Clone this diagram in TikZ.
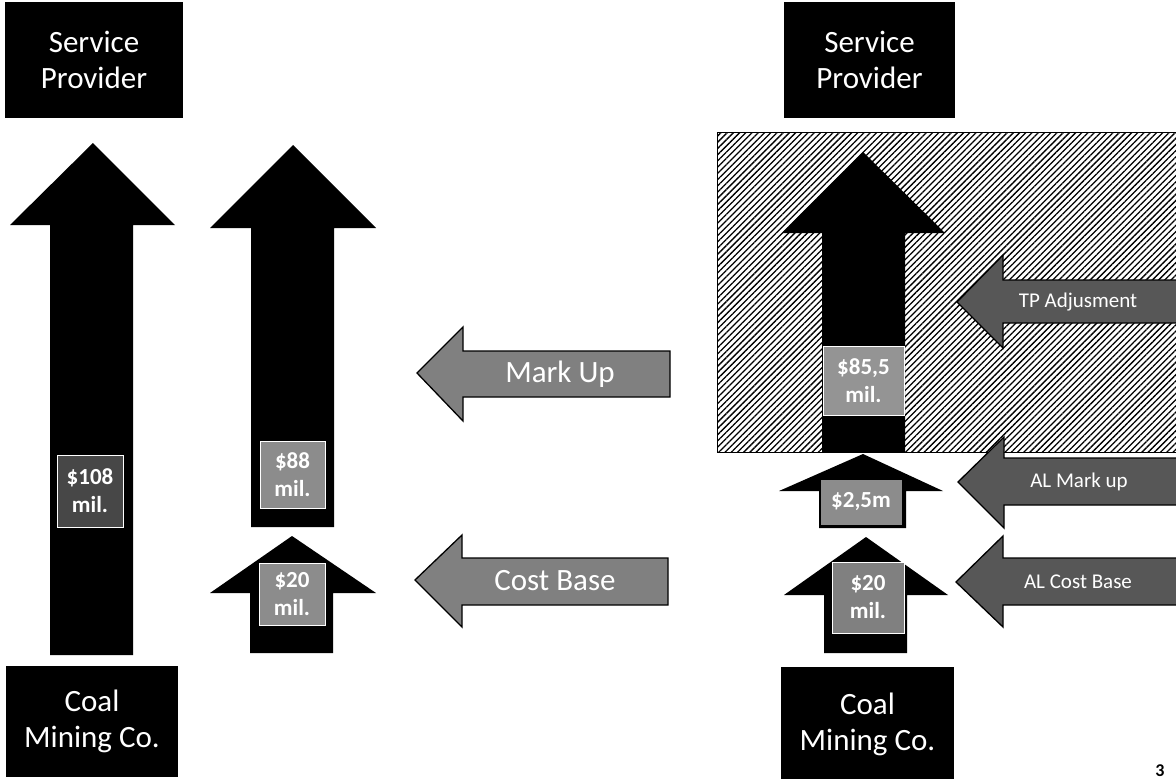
\documentclass[tikz,border=0pt]{standalone}
\usepackage{fontspec}
\setmainfont{Carlito}
\usetikzlibrary{patterns.meta}

% up arrow: style, tip x, tip y, head left, head right, head base y, shaft left, shaft right, bottom y
\newcommand\uparrowshape[9]{%
  \fill[#1] (#7,#9) -- (#7,#6) -- (#4,#6) -- (#2,#3) -- (#5,#6) -- (#8,#6) -- (#8,#9) -- cycle;}
% left arrow: style, tip x, tip y, head top, head bottom, head base x, shaft top, shaft bottom, right x
\newcommand\leftarrowshape[9]{%
  \filldraw[#1] (#9,#7) -- (#6,#7) -- (#6,#4) -- (#2,#3) -- (#6,#5) -- (#6,#8) -- (#9,#8) -- cycle;}

\begin{document}
\begin{tikzpicture}[x=1pt,y=-1pt,
  partybox/.style={fill=black, text=white, align=center, inner sep=0pt,
    font=\fontsize{31}{36}\selectfont},
  valuebox/.style={draw=white, line width=1pt, text=white, align=center, inner sep=0pt,
    font=\bfseries\fontsize{23}{28}\selectfont},
  flowlight/.style={draw=black, line width=1.3pt, fill=black!50},
  flowdark/.style={draw=black, line width=1.3pt, fill=black!66},
  flowtext/.style={text=white, font=\fontsize{31}{31}\selectfont},
  flowsmall/.style={text=white, font=\fontsize{21}{21}\selectfont},
  stream/.style={fill=black}
]
\useasboundingbox (0,0) rectangle (1176,779);
\fill[white] (0,0) rectangle (1176,779);

% ---------- left scenario ----------
\node[partybox, minimum width=178pt, minimum height=116pt] (spL) at (94,60) {Service\\Provider};
\node[partybox, minimum width=172pt, minimum height=111pt] (coalL) at (92,721.5) {Coal\\Mining Co.};

\uparrowshape{stream}{93}{143}{10}{175}{225}{50}{133}{655}
\uparrowshape{stream}{293}{145}{210}{376}{228}{251}{334}{527}
\uparrowshape{stream}{292}{536}{210}{376}{593}{250}{333}{653}

\node[valuebox, fill=black!72, minimum width=66pt, minimum height=72pt] (v108) at (90,491) {\$108\\mil.};
\node[valuebox, fill=black!45, minimum width=65pt, minimum height=67pt] (v88) at (292.5,474.5) {\$88\\mil.};
\node[valuebox, fill=black!45, minimum width=66pt, minimum height=62pt] (v20L) at (292,594) {\$20\\mil.};

\leftarrowshape{flowlight}{417}{373}{327}{421}{463}{351}{397}{670}
\leftarrowshape{flowlight}{415}{580}{535}{627}{462}{558}{605}{668}
\node[flowtext] (markup) at (560,374) {Mark Up};
\node[flowtext] (costbase) at (555,581) {Cost Base};

% ---------- right scenario ----------
\node[partybox, minimum width=171pt, minimum height=116pt] (spR) at (869.5,60) {Service\\Provider};
\node[partybox, minimum width=173pt, minimum height=114pt] (coalR) at (867.5,724) {Coal\\Mining Co.};

% transfer pricing adjustment area
\fill[white] (717,132) rectangle (1190,452);
\fill[pattern={Lines[angle=45, distance=4.4pt, line width=1.3pt]}, pattern color=black]
  (717,132) rectangle (1190,452);
\draw[line width=1pt] (717,132) rectangle (1190,452);

\uparrowshape{stream}{863}{152}{782}{945}{233}{822}{905}{452}
\uparrowshape{stream}{863}{454}{779}{943}{491}{819}{906}{528}
\uparrowshape{stream}{866}{537}{784}{948}{595}{824}{907}{653}

\node[valuebox, fill=black!42, minimum width=81pt, minimum height=69pt] (v855) at (863.5,380.5) {\$85,5\\mil.};
\node[valuebox, draw=black, fill=black!45, minimum width=82pt, minimum height=46pt] (v25) at (861,502) {\$2,5m};
\node[valuebox, fill=black!50, minimum width=72pt, minimum height=71pt] (v20R) at (868,597.5) {\$20\\mil.};

\leftarrowshape{flowdark}{957}{302}{255}{348}{1003}{280}{323}{1190}
\leftarrowshape{flowdark}{958}{482}{437}{528}{1004}{458}{505}{1190}
\leftarrowshape{flowdark}{956}{582}{536}{627}{1003}{558}{605}{1190}
\node[flowsmall] (tpadj) at (1078,302) {TP Adjusment};
\node[flowsmall] (almarkup) at (1079,482) {AL Mark up};
\node[flowsmall] (alcost) at (1078,582) {AL Cost Base};

% page number
\node[anchor=north, inner sep=0pt, font=\bfseries\fontsize{18}{18}\selectfont] (page) at (1160,764) {3};
\end{tikzpicture}
\end{document}
